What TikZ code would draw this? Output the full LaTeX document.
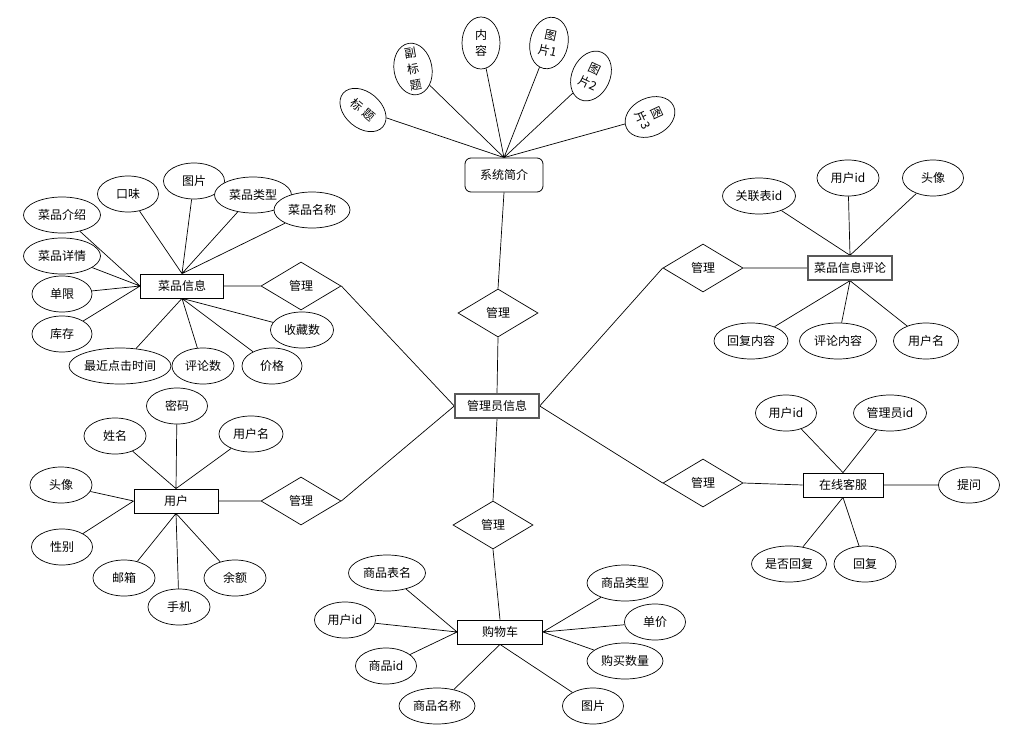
\documentclass[tikz,border=0pt]{standalone}
\usepackage{fontspec}
\setmainfont{Noto Sans CJK SC}
\usepackage{tikz}
\usetikzlibrary{shapes.geometric, positioning, backgrounds}

\begin{document}
\begin{tikzpicture}[
    x=1pt, y=-1pt,
    font=\fontsize{12}{14}\selectfont,
    attr/.style={ellipse, draw, fill=white, line width=0.7pt, minimum width=61pt, minimum height=36pt, inner sep=0pt},
    vert/.style={attr, align=center, minimum width=38pt, minimum height=52pt, inner ysep=-8pt, font=\fontsize{12}{16}\selectfont},
    ent/.style={draw, fill=white, line width=0.8pt, minimum width=84pt, minimum height=24pt, inner sep=0pt},
    keyent/.style={ent, draw=gray!70!black, line width=1.4pt},
    rel/.style={diamond, draw, fill=white, line width=0.7pt, minimum width=80pt, minimum height=48pt, inner sep=0pt},
    conn/.style={line width=0.7pt}
]
\useasboundingbox (0,0) rectangle (1028,741);

% SYSTEM INTRO
\node[ent, rounded corners=6pt, minimum width=78pt, minimum height=34pt] (intro) at (504,175) {系统简介};
\node[attr, minimum width=52pt, minimum height=36pt, rotate=-40] (title) at (363,110) {标\hspace{3pt}题};
\node[vert, rotate=10, inner ysep=-12pt] (subtitle) at (413,69) {副\\标\\题};
\node[vert] (content) at (481,43) {内\\容};
\node[vert, rotate=-12] (pic_1) at (549,43) {图\\片1};
\node[vert, rotate=-25] (pic_2) at (591,76) {图\\片2};
\node[vert, rotate=-65] (pic_3) at (650,117) {图\\片3};

% ADMIN (CENTER)
\node[rel] (rel_top) at (498,313) {管理};
\node[keyent] (admin) at (497,406) {管理员信息};
\node[rel] (rel_cart) at (493,525) {管理};

% DISH INFO
\node[ent, minimum width=83pt] (dish) at (182,286) {菜品信息};
\node[rel] (rel_dish) at (301,286) {管理};
\node[attr] (d_taste) at (128,194) {口味};
\node[attr] (d_pic) at (194,181) {图片};
\node[attr, minimum width=77pt] (d_type) at (253,195) {菜品类型};
\node[attr, minimum width=76pt] (d_name) at (312,210) {菜品名称};
\node[attr, minimum width=77pt] (d_intro) at (62,215) {菜品介绍};
\node[attr, minimum width=77pt] (d_detail) at (62,256) {菜品详情};
\node[attr, minimum width=60pt] (d_limit) at (62,294) {单限};
\node[attr, minimum width=60pt] (d_stock) at (62,334) {库存};
\node[attr, minimum width=102pt] (d_click) at (120,366) {最近点击时间};
\node[attr, minimum width=62pt] (d_reviews) at (203,366) {评论数};
\node[attr, minimum width=60pt] (d_price) at (272,366) {价格};
\node[attr, minimum width=63pt] (d_fav) at (302,330) {收藏数};

% USER
\node[ent] (user) at (176,501) {用户};
\node[rel] (rel_user) at (301,501) {管理};
\node[attr] (u_pwd) at (177,406) {密码};
\node[attr, minimum width=62pt] (u_realname) at (115,436) {姓名};
\node[attr, minimum width=64pt] (u_name) at (251,434) {用户名};
\node[attr, minimum width=62pt] (u_avatar) at (61,485) {头像};
\node[attr] (u_sex) at (62,547) {性别};
\node[attr, minimum width=62pt] (u_mail) at (124,578) {邮箱};
\node[attr, minimum width=62pt] (u_phone) at (179,607) {手机};
\node[attr, minimum width=62pt] (u_money) at (235,578) {余额};

% SHOPPING CART
\node[ent, minimum width=85pt] (cart) at (500,632) {购物车};
\node[attr, minimum width=77pt] (c_table) at (387,573) {商品表名};
\node[attr] (c_uid) at (345,620) {用户id};
\node[attr] (c_gid) at (386,666) {商品id};
\node[attr, minimum width=76pt] (c_name) at (437,706) {商品名称};
\node[attr] (c_pic) at (593,706) {图片};
\node[attr, minimum width=76pt] (c_count) at (625,661) {购买数量};
\node[attr] (c_price) at (655,622) {单价};
\node[attr, minimum width=76pt] (c_type) at (625,583) {商品类型};

% DISH REVIEW
\node[keyent] (review) at (850,268) {菜品信息评论};
\node[rel] (rel_review) at (703,268) {管理};
\node[attr, minimum width=73pt] (r_link) at (759,196) {关联表id};
\node[attr, minimum width=62pt] (r_uid) at (848,178) {用户id};
\node[attr] (r_avatar) at (933,178) {头像};
\node[attr, minimum width=74pt] (r_reply) at (751,341) {回复内容};
\node[attr, minimum width=77pt] (r_text) at (838,341) {评论内容};
\node[attr, minimum width=65pt] (r_name) at (926,341) {用户名};

% ONLINE SERVICE
\node[ent, minimum width=80pt] (service) at (843,485) {在线客服};
\node[rel] (rel_service) at (703,483) {管理};
\node[attr] (s_uid) at (786,413) {用户id};
\node[attr, minimum width=73pt] (s_aid) at (890,413) {管理员id};
\node[attr] (s_ask) at (969,485) {提问};
\node[attr, minimum width=75pt] (s_done) at (789,564) {是否回复};
\node[attr, minimum width=62pt] (s_answer) at (865,564) {回复};

% CONNECTORS
\begin{scope}[on background layer]
    \draw[conn] (title) -- (intro.north) (subtitle) -- (intro.north) (content) -- (intro.north)
        (pic_1) -- (intro.north) (pic_2) -- (intro.north) (pic_3) -- (intro.north);
    \draw[conn] (intro.south) -- (rel_top.north) (rel_top.south) -- (admin.north)
        (admin.south) -- (rel_cart.north) (rel_cart.south) -- (cart.north);

    \draw[conn] (dish.east) -- (rel_dish.west) (rel_dish.east) -- (admin.west);
    \draw[conn] (d_taste) -- (dish.north) (d_pic) -- (dish.north) (d_type) -- (dish.north) (d_name) -- (dish.north);
    \draw[conn] (d_intro) -- (dish.west) (d_detail) -- (dish.west) (d_limit) -- (dish.west) (d_stock) -- (dish.west);
    \draw[conn] (d_click) -- (dish.south) (d_reviews) -- (dish.south) (d_price) -- (dish.south) (d_fav) -- (dish.south);

    \draw[conn] (user.east) -- (rel_user.west) (rel_user.east) -- (admin.west);
    \draw[conn] (u_pwd) -- (user.north) (u_realname) -- (user.north) (u_name) -- (user.north);
    \draw[conn] (u_avatar) -- (user.west) (u_sex) -- (user.west);
    \draw[conn] (u_mail) -- (user.south) (u_phone) -- (user.south) (u_money) -- (user.south);

    \draw[conn] (c_table) -- (cart.west) (c_uid) -- (cart.west) (c_gid) -- (cart.west);
    \draw[conn] (c_name) -- (cart.south) (c_pic) -- (cart.south);
    \draw[conn] (c_type) -- (cart.east) (c_price) -- (cart.east) (c_count) -- (cart.east);

    \draw[conn] (admin.east) -- (rel_review.west) (rel_review.east) -- (review.west);
    \draw[conn] (r_link) -- (review.north) (r_uid) -- (review.north) (r_avatar) -- (review.north);
    \draw[conn] (r_reply) -- (review.south) (r_text) -- (review.south) (r_name) -- (review.south);

    \draw[conn] (admin.east) -- (rel_service.west) (rel_service.east) -- (service.west);
    \draw[conn] (s_uid) -- (service.north) (s_aid) -- (service.north) (s_ask) -- (service.east);
    \draw[conn] (s_done) -- (service.south) (s_answer) -- (service.south);
\end{scope}

\end{tikzpicture}
\end{document}
